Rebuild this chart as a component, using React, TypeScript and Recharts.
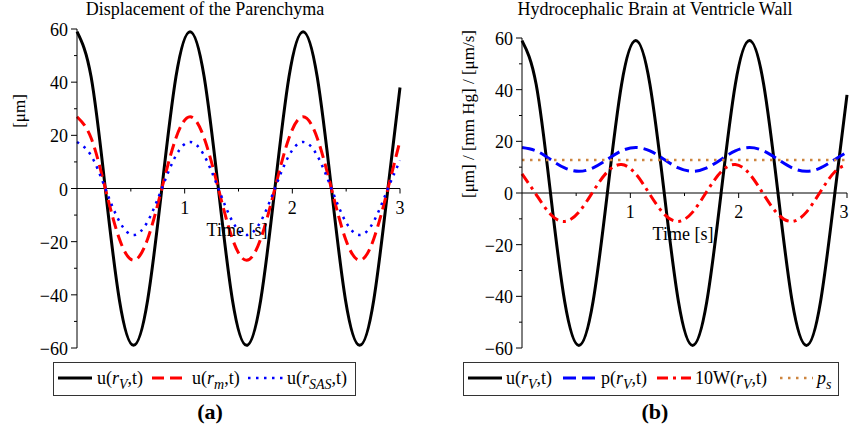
import React from 'react';
import { LineChart, Line, XAxis, YAxis, ReferenceLine } from 'recharts';

// time samples [s] (about 1/8 of a 1.05 s cycle apart)
const TIME = [
  0, 0.131, 0.263, 0.394, 0.525, 0.656, 0.788, 0.919, 1.05, 1.181, 1.313, 1.444,
  1.575, 1.706, 1.838, 1.969, 2.1, 2.231, 2.363, 2.494, 2.625, 2.756, 2.888, 3.0,
];

// (a) displacement of the parenchyma [um]
const U_V = [59, 42, 0, -42, -59, -42, 0, 42, 59, 42, 0, -42, -59, -42, 0, 42, 59, 42, 0, -42, -59, -42, 0, 38];
const U_M = [27, 19, 0, -19, -27, -19, 0, 19, 27, 19, 0, -19, -27, -19, 0, 19, 27, 19, 0, -19, -27, -19, 0, 18];
const U_SAS = [17.5, 12.4, 0, -12.4, -17.5, -12.4, 0, 12.4, 17.5, 12.4, 0, -12.4, -17.5, -12.4, 0, 12.4, 17.5, 12.4, 0, -12.4, -17.5, -12.4, 0, 10.5];

// (b) hydrocephalic brain at ventricle wall
const P_V = [17.6, 16.3, 13, 9.7, 8.4, 9.7, 13, 16.3, 17.6, 16.3, 13, 9.7, 8.4, 9.7, 13, 16.3, 17.6, 16.3, 13, 9.7, 8.4, 9.7, 13, 15.8];
const W10 = [7.4, -0.6, -8.2, -11, -7.4, 0.6, 8.2, 11, 7.4, -0.6, -8.2, -11, -7.4, 0.6, 8.2, 11, 7.4, -0.6, -8.2, -11, -7.4, 0.6, 8.2, 11];
const P_S = [12.8, 12.8, 12.8, 12.8, 12.8, 12.8, 12.8, 12.8, 12.8, 12.8, 12.8, 12.8, 12.8, 12.8, 12.8, 12.8, 12.8, 12.8, 12.8, 12.8, 12.8, 12.8, 12.8, 12.8];

const X_TICKS = [0.5, 1, 1.5, 2, 2.5, 3];
const Y_TICKS = [-60, -50, -40, -30, -20, -10, 0, 10, 20, 30, 40, 50, 60];

const FONT = '"Liberation Serif", "DejaVu Serif", serif';
const BOTTOM = 348; // plot bottom for both panels
const L_TOP = 29;
const R_TOP = 38;
const L_ZERO = (L_TOP + BOTTOM) / 2;
const R_ZERO = (R_TOP + BOTTOM) / 2;

const leftData = TIME.map((t, i) => ({ t, uV: U_V[i], uM: U_M[i], uSAS: U_SAS[i] }));
const rightData = TIME.map((t, i) => ({ t, uV: U_V[i], pV: P_V[i], w: W10[i], ps: P_S[i] }));

function XTick({ x, payload, zeroY, lastShift = 0 }: any) {
  const v = payload.value;
  const major = Number.isInteger(v);
  const tx = v === 3 ? x - lastShift : x;
  return (
    <g>
      <line x1={x} x2={x} y1={zeroY} y2={zeroY + (major ? 5 : 3)} stroke="#000" />
      {major && (
        <text x={tx} y={zeroY + 25} textAnchor="middle" fontSize={18} fontFamily={FONT} fill="#000">
          {v}
        </text>
      )}
    </g>
  );
}

function YTick({ y, payload, axisX }: any) {
  const v = payload.value;
  const major = v % 20 === 0;
  return (
    <g>
      <line x1={axisX - (major ? 6 : 3)} x2={axisX} y1={y} y2={y} stroke="#000" />
      {major && (
        <text x={axisX - 9} y={y + 7} textAnchor="end" fontSize={18} fontFamily={FONT} fill="#000">
          {v < 0 ? '\u2212' + Math.abs(v) : v}
        </text>
      )}
    </g>
  );
}

// legend label like u(r_V,t)
function ArgLabel({ x, head, sub }: { x: number; head: string; sub: string }) {
  return (
    <text x={x} y={384} fontSize={18}>
      {head}(<tspan fontStyle="italic">r</tspan>
      <tspan fontStyle="italic" fontSize={14} dy={5}>{sub}</tspan>
      <tspan dy={-5}>,t)</tspan>
    </text>
  );
}

export default function App() {
  return (
    <div style={{ position: 'absolute', left: 0, top: 0, width: 849, height: 444, background: '#fff' }}>
      <div style={{ position: 'absolute', left: 0, top: 0 }}>
        <LineChart width={420} height={444} data={leftData} margin={{ top: L_TOP, right: 20, bottom: 0, left: 0 }}>
          <XAxis
            dataKey="t"
            type="number"
            domain={[0, 3]}
            ticks={X_TICKS}
            interval={0}
            height={96}
            axisLine={false}
            tickLine={false}
            tickSize={0}
            tick={(p: any) => <XTick {...p} zeroY={L_ZERO} />}
          />
          <YAxis
            type="number"
            domain={[-60, 60]}
            ticks={Y_TICKS}
            interval={0}
            width={77}
            axisLine={{ stroke: '#000' }}
            tickLine={false}
            tickSize={0}
            tick={(p: any) => <YTick {...p} axisX={77} />}
          />
          <ReferenceLine y={0} stroke="#000" />
          <Line type="natural" dataKey="uV" stroke="#000" strokeWidth={3} dot={false} isAnimationActive={false} />
          <Line type="natural" dataKey="uM" stroke="#ff0000" strokeWidth={3} strokeDasharray="12 6" dot={false} isAnimationActive={false} />
          <Line type="natural" dataKey="uSAS" stroke="#0000ff" strokeWidth={2.5} strokeDasharray="2.5 5.5" dot={false} isAnimationActive={false} />
        </LineChart>
      </div>
      <div style={{ position: 'absolute', left: 420, top: 0 }}>
        <LineChart width={429} height={444} data={rightData} margin={{ top: R_TOP, right: 2, bottom: 0, left: 0 }}>
          <XAxis
            dataKey="t"
            type="number"
            domain={[0, 3]}
            ticks={X_TICKS}
            interval={0}
            height={96}
            axisLine={false}
            tickLine={false}
            tickSize={0}
            tick={(p: any) => <XTick {...p} zeroY={R_ZERO} lastShift={3} />}
          />
          <YAxis
            type="number"
            domain={[-60, 60]}
            ticks={Y_TICKS}
            interval={0}
            width={102}
            axisLine={{ stroke: '#000' }}
            tickLine={false}
            tickSize={0}
            tick={(p: any) => <YTick {...p} axisX={102} />}
          />
          <ReferenceLine y={0} stroke="#000" />
          <Line type="natural" dataKey="uV" stroke="#000" strokeWidth={3} dot={false} isAnimationActive={false} />
          <Line type="natural" dataKey="pV" stroke="#0000ff" strokeWidth={3} strokeDasharray="13 6" dot={false} isAnimationActive={false} />
          <Line type="natural" dataKey="w" stroke="#ff0000" strokeWidth={3} strokeDasharray="11 5 3 5" dot={false} isAnimationActive={false} />
          <Line type="linear" dataKey="ps" stroke="#cd853f" strokeWidth={2.5} strokeDasharray="2.5 5.5" dot={false} isAnimationActive={false} />
        </LineChart>
      </div>

      <svg width={849} height={444} style={{ position: 'absolute', left: 0, top: 0, pointerEvents: 'none' }} fontFamily={FONT}>
        {/* titles */}
        <text x={205} y={15} textAnchor="middle" fontSize={18}>Displacement of the Parenchyma</text>
        <text x={655} y={15} textAnchor="middle" fontSize={18}>Hydrocephalic Brain at Ventricle Wall</text>

        {/* axis labels */}
        <text transform="translate(25,111) rotate(-90)" textAnchor="middle" fontSize={17}>[μm]</text>
        <text transform="translate(474,114) rotate(-90)" textAnchor="middle" fontSize={17}>[μm] / [mm Hg] / [μm/s]</text>
        <text x={237} y={L_ZERO + 47} textAnchor="middle" fontSize={18}>Time [s]</text>
        <text x={683} y={R_ZERO + 47} textAnchor="middle" fontSize={18}>Time [s]</text>

        {/* legend (a) */}
        <rect x={53.5} y={362.5} width={302} height={33} fill="none" stroke="#333" />
        <line x1={58} x2={92} y1={378} y2={378} stroke="#000" strokeWidth={3} />
        <ArgLabel x={97} head="u" sub="V" />
        <line x1={152} x2={188} y1={378} y2={378} stroke="#ff0000" strokeWidth={3} strokeDasharray="12 6" />
        <ArgLabel x={192} head="u" sub="m" />
        <line x1={248} x2={283} y1={378} y2={378} stroke="#0000ff" strokeWidth={2.5} strokeDasharray="2.5 5.5" />
        <ArgLabel x={287} head="u" sub="SAS" />

        {/* legend (b) */}
        <rect x={463.5} y={362.5} width={375} height={33} fill="none" stroke="#333" />
        <line x1={468} x2={502} y1={378} y2={378} stroke="#000" strokeWidth={3} />
        <ArgLabel x={506} head="u" sub="V" />
        <line x1={563} x2={597} y1={378} y2={378} stroke="#0000ff" strokeWidth={3} strokeDasharray="13 6" />
        <ArgLabel x={601} head="p" sub="V" />
        <line x1={657} x2={691} y1={378} y2={378} stroke="#ff0000" strokeWidth={3} strokeDasharray="11 5 3 5" />
        <ArgLabel x={695} head="10W" sub="V" />
        <line x1={780} x2={813} y1={378} y2={378} stroke="#cd853f" strokeWidth={2.5} strokeDasharray="2.5 5.5" />
        <text x={817} y={384} fontSize={18}>
          <tspan fontStyle="italic">p</tspan>
          <tspan fontStyle="italic" fontSize={14} dy={5}>s</tspan>
        </text>

        {/* panel captions */}
        <text x={210} y={419} textAnchor="middle" fontSize={22} fontWeight="bold">(a)</text>
        <text x={655} y={419} textAnchor="middle" fontSize={22} fontWeight="bold">(b)</text>
      </svg>
    </div>
  );
}
